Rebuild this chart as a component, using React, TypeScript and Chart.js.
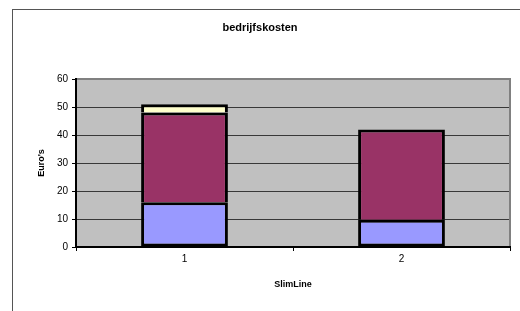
import { useEffect, useRef } from "react";
import { Chart, registerables } from "chart.js";

Chart.register(...registerables);

const categories = ["1", "2"];
const serie1 = [16, 9.7];
const serie2 = [32, 32.3];
const serie3 = [3, 0];
const yMin = 0;
const yMax = 60;
const yStep = 10;

const FONT = "'Liberation Sans', Arial, sans-serif";

const framePlugin = {
  id: "frame",
  beforeDraw(chart: any) {
    const { ctx, chartArea: a } = chart;
    ctx.save();
    ctx.fillStyle = "#ffffff";
    ctx.fillRect(0, 0, chart.width, chart.height);
    ctx.fillStyle = "#555555";
    ctx.fillRect(12, 9, 1, chart.height - 9);
    ctx.fillRect(12, 9, chart.width - 12, 1);
    ctx.fillStyle = "#c0c0c0";
    ctx.fillRect(a.left, a.top, a.right - a.left, a.bottom - a.top);
    ctx.restore();
  },
  beforeDatasetsDraw(chart: any) {
    const { ctx, chartArea: a } = chart;
    ctx.save();
    ctx.fillStyle = "#808080";
    ctx.fillRect(a.left + 1, a.top - 1, a.right - a.left, 2);
    ctx.fillRect(a.right - 1, a.top - 1, 2, a.bottom - a.top);
    ctx.restore();
  },
};

export default function App() {
  const ref = useRef<HTMLCanvasElement>(null);
  useEffect(() => {
    if (!ref.current) return;
    const chart = new Chart(ref.current, {
      type: "bar",
      data: {
        labels: categories,
        datasets: [
          {
            label: "Reeks1",
            data: serie1,
            backgroundColor: "#9999ff",
            borderColor: "#000000",
            borderWidth: 3,
            borderSkipped: false,
          },
          {
            label: "Reeks2",
            data: serie2,
            backgroundColor: "#993366",
            borderColor: "#000000",
            borderWidth: 3,
            borderSkipped: "start",
          },
          {
            label: "Reeks3",
            data: serie3,
            backgroundColor: "#ffffcc",
            borderColor: "#000000",
            borderWidth: 3,
            borderSkipped: "start",
          },
        ],
      },
      options: {
        responsive: false,
        animation: false,
        layout: { padding: { left: 10, right: 10, top: 0, bottom: 0 } },
        datasets: { bar: { categoryPercentage: 1, barPercentage: 0.4 } },
        plugins: {
          legend: { display: false },
          tooltip: { enabled: false },
          title: {
            display: true,
            text: "bedrijfskosten",
            color: "#000",
            font: { family: FONT, size: 11, weight: "bold", lineHeight: 1.2 },
            padding: { top: 21.4, bottom: 44.4 },
          },
        },
        scales: {
          x: {
            stacked: true,
            afterFit: (s: any) => {
              s.height = 64;
            },
            grid: {
              display: true,
              drawOnChartArea: false,
              offset: true,
              tickLength: 4,
              color: "#000",
              lineWidth: 1,
            },
            border: { display: true, color: "#000", width: 2 },
            ticks: {
              color: "#000",
              padding: 2,
              font: { family: FONT, size: 10 },
            },
            title: {
              display: true,
              text: "SlimLine",
              color: "#000",
              font: { family: FONT, size: 9, weight: "bold", lineHeight: 1.2 },
              padding: { top: 0, bottom: 20.8 },
            },
          },
          y: {
            stacked: true,
            min: yMin,
            max: yMax,
            afterFit: (s: any) => {
              s.width = 66;
            },
            grid: {
              color: "#383838",
              lineWidth: 1,
              tickLength: 4,
              tickColor: "#000",
            },
            border: { display: true, color: "#000", width: 2 },
            ticks: {
              stepSize: yStep,
              color: "#000",
              padding: 4,
              font: { family: FONT, size: 10 },
            },
            title: {
              display: true,
              text: "Euro's",
              color: "#000",
              font: { family: FONT, size: 9, weight: "bold", lineHeight: 1.2 },
              padding: { top: 26, bottom: 0 },
            },
          },
        },
      },
      plugins: [framePlugin],
    });
    return () => chart.destroy();
  }, []);
  return (
    <div
      style={{
        position: "fixed",
        left: 0,
        top: 0,
        width: 520,
        height: 311,
        background: "#fff",
      }}
    >
      <canvas ref={ref} width={520} height={311} style={{ display: "block" }} />
    </div>
  );
}
